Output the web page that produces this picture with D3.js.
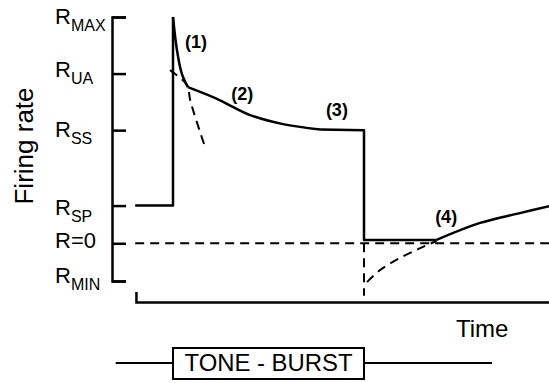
<!DOCTYPE html>
<html>
<head>
<meta charset="utf-8">
<script src="https://cdn.jsdelivr.net/npm/d3@7"></script>
<style>
  body { margin: 0; background: #fff; }
  svg { display: block; font-family: "Liberation Sans", Arial, Helvetica, sans-serif; }
</style>
</head>
<body>
<div id="chart"></div>
<script>
// rate levels marked on the y axis (arbitrary units, R=0 is zero)
var levelNames = ["MAX", "UA", "SS", "SP", "=0", "MIN"];
var levelValues = [60, 45, 30, 10, 0, -10];

// solid response trace, split into straight and curved pieces (time, rate)
var spontaneous = [[-9.9, 10], [0, 10], [0, 60]];
var fastDecay = [[0, 60], [1.0, 51.5], [2.3, 45], [3.9, 41.4]];
var slowDecay = [[3.9, 41.4], [11.5, 38.3], [20.2, 34], [28.8, 31.6], [38.5, 30.2]];
var steadyState = [[38.5, 30.2], [50, 30], [50, 0.9], [69, 0.9]];
var recovery = [[69, 0.9], [80.4, 5.4], [90.8, 8], [98.8, 9.9]];

// dashed traces
var zeroLine = [[-9.9, 0], [98.8, 0]];
var offsetDrop = [[50, 0], [50, -13.9]];
var reboundCurve = [[50.8, -10.3], [54.2, -7.1], [59.4, -3.9], [64.7, -1.3], [69, 0.6]];
var fastExtrap = [[-0.8, 45.9], [3.7, 41.9], [4.5, 37.9], [8.4, 25.5]];

// phase labels
var phaseLabels = ["(1)", "(2)", "(3)", "(4)"];
var phasePos = [[6.0, 53.1], [18.1, 39.3], [42.9, 35.3], [71.5, 6.7]];

// stimulus
var toneOn = 0, toneOff = 50, toneLeadIn = -15, toneLeadOut = 83.5;

var width = 549, height = 383;

var svg = d3.select("#chart").append("svg")
    .attr("width", width)
    .attr("height", height);

var x = d3.scaleLinear().domain([0, 50]).range([173, 364]);
var y = d3.scaleLinear().domain([-10, 60]).range([281, 17]);

// y axis as a bracket with inward ticks
var yAxis = d3.axisLeft(y)
    .tickValues(levelValues)
    .tickSizeInner(-14)
    .tickSizeOuter(-14)
    .tickFormat("");

svg.append("g")
    .attr("transform", "translate(112,0)")
    .call(yAxis)
    .call(function (g) {
        g.selectAll("path, line").attr("stroke", "#000").attr("stroke-width", 2.5);
    });

// y level labels: R with a subscript
var labelDy = [7, 3, 7, 9, 5, 2];
levelNames.forEach(function (name, i) {
    var t = svg.append("text")
        .attr("x", 55)
        .attr("y", y(levelValues[i]) + labelDy[i])
        .attr("font-size", 22)
        .text("R");
    if (name == "=0") {
        t.append("tspan").text("=0");
    } else {
        t.append("tspan")
            .attr("font-size", 16)
            .attr("dy", 7)
            .text(name);
    }
});

// x axis with a short upturned end (right end runs off the page)
var xStart = -9.7, xEnd = 99.5;
var xAxisScale = d3.scaleLinear()
    .domain([xStart, xEnd])
    .range([x(xStart), x(xEnd)]);
svg.append("g")
    .attr("transform", "translate(0,302)")
    .call(d3.axisBottom(xAxisScale).tickValues([]).tickSizeOuter(-10))
    .call(function (g) {
        g.select("path").attr("stroke", "#000").attr("stroke-width", 2.5);
    });

var straight = d3.line()
    .x(function (d) { return x(d[0]); })
    .y(function (d) { return y(d[1]); });

var smooth = d3.line()
    .x(function (d) { return x(d[0]); })
    .y(function (d) { return y(d[1]); })
    .curve(d3.curveCatmullRom.alpha(0.5));

function trace(data, gen, dashed) {
    svg.append("path")
        .datum(data)
        .attr("d", gen)
        .attr("fill", "none")
        .attr("stroke", "#000")
        .attr("stroke-width", dashed ? 2 : 2.5)
        .attr("stroke-linejoin", "round")
        .attr("stroke-dasharray", dashed ? "9,6" : null);
}

trace(zeroLine, straight, true);
trace(offsetDrop, straight, true);
trace(reboundCurve, smooth, true);
trace(fastExtrap, smooth, true);

trace(spontaneous, straight, false);
trace(fastDecay, smooth, false);
trace(slowDecay, smooth, false);
trace(steadyState, straight, false);
trace(recovery, smooth, false);

svg.selectAll(".phase")
    .data(phaseLabels)
    .enter().append("text")
    .attr("class", "phase")
    .attr("x", function (d, i) { return x(phasePos[i][0]); })
    .attr("y", function (d, i) { return y(phasePos[i][1]); })
    .attr("dy", "0.3em")
    .attr("text-anchor", "middle")
    .attr("font-size", 18)
    .attr("font-weight", "bold")
    .text(function (d) { return d; });

// axis titles
svg.append("text")
    .attr("transform", "translate(33,146) rotate(-90)")
    .attr("text-anchor", "middle")
    .attr("font-size", 26)
    .text("Firing rate");

svg.append("text")
    .attr("x", 456)
    .attr("y", 337)
    .attr("font-size", 24)
    .text("Time");

// tone-burst marker
var toneY = 363;
svg.append("line")
    .attr("x1", x(toneLeadIn)).attr("x2", x(toneOn))
    .attr("y1", toneY).attr("y2", toneY)
    .attr("stroke", "#000").attr("stroke-width", 2);
svg.append("line")
    .attr("x1", x(toneOff)).attr("x2", x(toneLeadOut))
    .attr("y1", toneY).attr("y2", toneY)
    .attr("stroke", "#000").attr("stroke-width", 2);
svg.append("rect")
    .attr("x", x(toneOn))
    .attr("y", 348)
    .attr("width", x(toneOff) - x(toneOn))
    .attr("height", 31)
    .attr("fill", "#fff")
    .attr("stroke", "#000")
    .attr("stroke-width", 2);
svg.append("text")
    .attr("x", (x(toneOn) + x(toneOff)) / 2)
    .attr("y", 371)
    .attr("text-anchor", "middle")
    .attr("font-size", 23)
    .attr("font-weight", "normal")
    .attr("textLength", 168)
    .attr("lengthAdjust", "spacingAndGlyphs")
    .text("TONE - BURST");
</script>
</body>
</html>
